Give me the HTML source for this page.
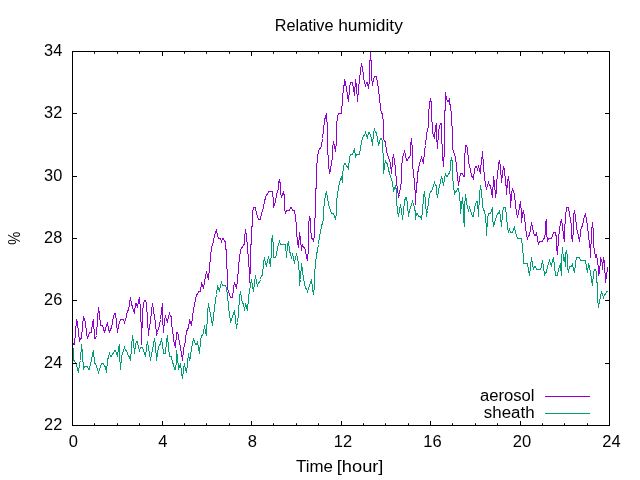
<!DOCTYPE html>
<html><head><meta charset="utf-8"><title>Relative humidity</title>
<style>
html,body{margin:0;padding:0;background:#fff;}
body{width:640px;height:480px;overflow:hidden;}
svg{display:block;}
text{font-family:"Liberation Sans","DejaVu Sans",sans-serif;font-size:15.6px;fill:#000;}
</style></head><body>
<svg width="640" height="480" viewBox="0 0 640 480">
<rect x="0" y="0" width="640" height="480" fill="#fff"/>
<text x="68.80" y="447.30" textLength="9.21" lengthAdjust="spacingAndGlyphs">0</text>
<text x="158.30" y="447.30" textLength="9.21" lengthAdjust="spacingAndGlyphs">4</text>
<text x="247.80" y="447.30" textLength="9.21" lengthAdjust="spacingAndGlyphs">8</text>
<text x="333.80" y="447.30" textLength="18.40" lengthAdjust="spacingAndGlyphs">12</text>
<text x="423.30" y="447.30" textLength="18.40" lengthAdjust="spacingAndGlyphs">16</text>
<text x="512.80" y="447.30" textLength="18.40" lengthAdjust="spacingAndGlyphs">20</text>
<text x="602.30" y="447.30" textLength="18.40" lengthAdjust="spacingAndGlyphs">24</text>
<text x="44.12" y="430.00" textLength="18.18" lengthAdjust="spacingAndGlyphs">22</text>
<text x="44.12" y="367.67" textLength="18.18" lengthAdjust="spacingAndGlyphs">24</text>
<text x="44.12" y="305.33" textLength="18.18" lengthAdjust="spacingAndGlyphs">26</text>
<text x="44.12" y="243.00" textLength="18.18" lengthAdjust="spacingAndGlyphs">28</text>
<text x="44.12" y="180.67" textLength="18.18" lengthAdjust="spacingAndGlyphs">30</text>
<text x="44.12" y="118.33" textLength="18.18" lengthAdjust="spacingAndGlyphs">32</text>
<text x="44.12" y="56.00" textLength="18.18" lengthAdjust="spacingAndGlyphs">34</text>
<text y="31.00"><tspan x="274.77" textLength="58.67" lengthAdjust="spacingAndGlyphs">Relative</tspan> <tspan x="338.15" textLength="64.71" lengthAdjust="spacingAndGlyphs">humidity</tspan></text>
<text y="471.50"><tspan x="296.05" textLength="36.85" lengthAdjust="spacingAndGlyphs">Time</tspan> <tspan x="336.77" textLength="46.70" lengthAdjust="spacingAndGlyphs">[hour]</tspan></text>
<text y="400.90"><tspan x="479.91" textLength="54.60" lengthAdjust="spacingAndGlyphs">aerosol</tspan></text>
<text y="417.80"><tspan x="483.81" textLength="50.74" lengthAdjust="spacingAndGlyphs">sheath</tspan></text>
<text transform="translate(19.5,238.2) rotate(-90) scale(0.94,1)" text-anchor="middle">%</text>
<path d="M545,396.5H590" stroke="#9400d3" stroke-width="1" fill="none"/>
<path d="M545,413.5H590" stroke="#009e73" stroke-width="1" fill="none"/>
<path d="M72.5,341.5L73.5,344.5L74.5,344.5L75.5,332.5L76.5,319.5L77.5,322.5L78.5,332.5L79.5,341.5L80.5,338.5L81.5,338.5L82.5,325.5L83.5,316.5L84.5,319.5L85.5,322.5L86.5,332.5L87.5,338.5L88.5,335.5L89.5,332.5L90.5,332.5L91.5,332.5L92.5,322.5L93.5,319.5L94.5,338.5L95.5,338.5L96.5,335.5L97.5,319.5L98.5,307.5L99.5,313.5L100.5,325.5L101.5,325.5L102.5,325.5L103.5,328.5L104.5,332.5L105.5,328.5L106.5,325.5L107.5,322.5L108.5,328.5L109.5,332.5L110.5,328.5L111.5,328.5L112.5,322.5L113.5,316.5L114.5,313.5L115.5,313.5L116.5,322.5L117.5,332.5L118.5,325.5L119.5,322.5L120.5,319.5L121.5,319.5L122.5,319.5L123.5,319.5L124.5,322.5L125.5,319.5L126.5,316.5L127.5,310.5L128.5,310.5L129.5,303.5L130.5,297.5L131.5,303.5L132.5,307.5L133.5,310.5L134.5,313.5L135.5,303.5L136.5,303.5L137.5,307.5L138.5,300.5L139.5,297.5L140.5,310.5L141.5,332.5L141.5,344.5L142.5,313.5L143.5,303.5L144.5,300.5L145.5,300.5L146.5,303.5L147.5,319.5L148.5,335.5L149.5,325.5L150.5,322.5L151.5,310.5L152.5,303.5L153.5,310.5L154.5,316.5L155.5,322.5L156.5,335.5L157.5,332.5L158.5,328.5L159.5,325.5L160.5,319.5L161.5,310.5L162.5,303.5L162.5,316.5L163.5,332.5L164.5,319.5L165.5,316.5L166.5,319.5L167.5,322.5L168.5,316.5L169.5,313.5L170.5,316.5L171.5,316.5L171.5,325.5L172.5,328.5L173.5,338.5L174.5,344.5L175.5,347.5L176.5,332.5L177.5,332.5L178.5,335.5L178.5,338.5L179.5,341.5L180.5,347.5L181.5,353.5L182.5,360.5L183.5,350.5L184.5,344.5L185.5,341.5L185.5,338.5L186.5,332.5L187.5,328.5L188.5,328.5L189.5,319.5L190.5,322.5L191.5,325.5L192.5,316.5L193.5,310.5L194.5,303.5L195.5,300.5L196.5,294.5L197.5,294.5L198.5,291.5L199.5,291.5L200.5,291.5L201.5,282.5L202.5,285.5L203.5,288.5L204.5,282.5L205.5,275.5L206.5,272.5L207.5,275.5L208.5,279.5L209.5,266.5L210.5,257.5L211.5,247.5L212.5,244.5L213.5,241.5L214.5,235.5L215.5,232.5L216.5,229.5L217.5,235.5L218.5,238.5L219.5,238.5L220.5,238.5L221.5,241.5L222.5,238.5L223.5,238.5L224.5,241.5L225.5,241.5L226.5,257.5L227.5,279.5L227.5,288.5L228.5,291.5L229.5,294.5L230.5,297.5L231.5,297.5L232.5,297.5L233.5,288.5L234.5,282.5L235.5,285.5L236.5,288.5L237.5,279.5L238.5,269.5L238.5,266.5L239.5,257.5L240.5,250.5L241.5,247.5L242.5,247.5L243.5,244.5L244.5,244.5L244.5,238.5L245.5,229.5L246.5,235.5L247.5,247.5L248.5,260.5L249.5,272.5L249.5,282.5L249.5,279.5L250.5,269.5L250.5,244.5L251.5,244.5L251.5,226.5L252.5,226.5L252.5,213.5L253.5,207.5L254.5,207.5L255.5,207.5L256.5,213.5L257.5,216.5L258.5,219.5L259.5,219.5L260.5,219.5L261.5,213.5L262.5,210.5L263.5,207.5L264.5,201.5L265.5,197.5L266.5,194.5L267.5,194.5L268.5,191.5L269.5,191.5L270.5,191.5L271.5,191.5L272.5,191.5L273.5,201.5L273.5,207.5L274.5,204.5L275.5,201.5L276.5,194.5L277.5,191.5L278.5,188.5L278.5,182.5L279.5,179.5L280.5,185.5L280.5,191.5L281.5,197.5L282.5,194.5L283.5,191.5L284.5,197.5L284.5,207.5L285.5,213.5L286.5,210.5L287.5,210.5L288.5,210.5L289.5,210.5L290.5,207.5L291.5,207.5L292.5,210.5L293.5,210.5L294.5,210.5L295.5,216.5L296.5,226.5L296.5,232.5L297.5,241.5L298.5,247.5L299.5,232.5L300.5,238.5L301.5,250.5L302.5,244.5L303.5,247.5L304.5,247.5L305.5,250.5L306.5,257.5L307.5,260.5L308.5,247.5L308.5,226.5L309.5,216.5L310.5,219.5L310.5,226.5L311.5,238.5L312.5,238.5L313.5,241.5L314.5,235.5L314.5,219.5L315.5,216.5L315.5,188.5L316.5,188.5L316.5,169.5L317.5,157.5L318.5,151.5L319.5,148.5L320.5,148.5L321.5,145.5L322.5,138.5L323.5,129.5L324.5,120.5L325.5,116.5L326.5,113.5L326.5,120.5L327.5,123.5L327.5,145.5L328.5,163.5L329.5,173.5L330.5,169.5L331.5,163.5L332.5,157.5L332.5,148.5L333.5,141.5L334.5,145.5L335.5,151.5L336.5,141.5L336.5,126.5L337.5,116.5L338.5,113.5L339.5,113.5L340.5,113.5L341.5,113.5L341.5,110.5L342.5,101.5L343.5,85.5L344.5,85.5L344.5,79.5L345.5,82.5L346.5,88.5L347.5,95.5L348.5,101.5L349.5,88.5L350.5,82.5L351.5,82.5L352.5,82.5L353.5,88.5L354.5,95.5L355.5,79.5L356.5,85.5L357.5,101.5L358.5,88.5L359.5,79.5L360.5,70.5L361.5,63.5L362.5,67.5L363.5,76.5L364.5,82.5L365.5,85.5L366.5,82.5L367.5,82.5L368.5,88.5L369.5,79.5L369.5,60.5L370.5,60.5L370.5,51.5L370.5,60.5L371.5,60.5L371.5,76.5L372.5,85.5L373.5,79.5L374.5,76.5L375.5,76.5L376.5,76.5L377.5,82.5L378.5,88.5L379.5,98.5L380.5,107.5L381.5,113.5L382.5,113.5L383.5,123.5L383.5,138.5L384.5,141.5L385.5,141.5L386.5,151.5L387.5,154.5L388.5,157.5L389.5,160.5L390.5,163.5L391.5,173.5L392.5,160.5L393.5,154.5L394.5,160.5L395.5,169.5L396.5,182.5L397.5,188.5L398.5,197.5L399.5,194.5L400.5,185.5L401.5,182.5L401.5,169.5L402.5,157.5L403.5,154.5L404.5,151.5L405.5,154.5L406.5,160.5L407.5,160.5L408.5,157.5L409.5,157.5L410.5,154.5L410.5,145.5L411.5,138.5L412.5,151.5L412.5,163.5L413.5,173.5L414.5,182.5L415.5,197.5L415.5,204.5L416.5,182.5L417.5,182.5L417.5,173.5L418.5,169.5L419.5,163.5L420.5,160.5L421.5,157.5L422.5,160.5L423.5,163.5L424.5,151.5L425.5,145.5L426.5,135.5L427.5,129.5L428.5,126.5L428.5,113.5L429.5,104.5L430.5,98.5L431.5,104.5L431.5,120.5L432.5,123.5L432.5,132.5L433.5,135.5L434.5,138.5L435.5,126.5L436.5,123.5L436.5,135.5L437.5,148.5L438.5,132.5L439.5,126.5L440.5,123.5L441.5,123.5L441.5,132.5L442.5,154.5L443.5,166.5L444.5,148.5L444.5,110.5L445.5,110.5L445.5,92.5L446.5,98.5L447.5,101.5L448.5,101.5L449.5,98.5L449.5,104.5L450.5,104.5L451.5,116.5L452.5,135.5L452.5,148.5L453.5,151.5L454.5,154.5L455.5,157.5L456.5,166.5L457.5,176.5L458.5,185.5L459.5,179.5L460.5,173.5L461.5,173.5L462.5,173.5L463.5,176.5L464.5,176.5L464.5,160.5L465.5,145.5L466.5,145.5L467.5,148.5L468.5,160.5L469.5,166.5L470.5,169.5L471.5,176.5L472.5,176.5L473.5,179.5L474.5,169.5L475.5,166.5L476.5,166.5L477.5,169.5L478.5,166.5L479.5,169.5L480.5,173.5L481.5,157.5L482.5,157.5L482.5,151.5L483.5,166.5L484.5,176.5L485.5,185.5L486.5,188.5L487.5,185.5L488.5,182.5L489.5,185.5L490.5,185.5L491.5,191.5L492.5,197.5L493.5,176.5L494.5,182.5L495.5,197.5L496.5,191.5L496.5,182.5L497.5,176.5L498.5,163.5L499.5,160.5L500.5,166.5L501.5,182.5L502.5,173.5L503.5,166.5L504.5,169.5L505.5,182.5L506.5,188.5L506.5,194.5L507.5,182.5L508.5,176.5L509.5,185.5L510.5,201.5L510.5,207.5L511.5,194.5L512.5,188.5L513.5,191.5L514.5,194.5L515.5,204.5L516.5,213.5L517.5,216.5L518.5,213.5L519.5,207.5L520.5,201.5L521.5,213.5L521.5,222.5L522.5,213.5L523.5,210.5L524.5,216.5L525.5,226.5L526.5,235.5L527.5,238.5L528.5,235.5L529.5,235.5L530.5,229.5L531.5,222.5L532.5,226.5L533.5,232.5L534.5,235.5L535.5,235.5L536.5,232.5L537.5,238.5L538.5,244.5L539.5,241.5L540.5,241.5L541.5,241.5L542.5,241.5L543.5,238.5L544.5,238.5L545.5,232.5L545.5,222.5L546.5,219.5L546.5,232.5L547.5,241.5L548.5,238.5L549.5,238.5L550.5,238.5L551.5,238.5L552.5,235.5L553.5,232.5L554.5,232.5L555.5,232.5L556.5,238.5L556.5,247.5L557.5,254.5L558.5,238.5L559.5,229.5L560.5,222.5L561.5,219.5L562.5,226.5L563.5,235.5L564.5,241.5L564.5,232.5L565.5,216.5L566.5,207.5L567.5,207.5L568.5,207.5L569.5,213.5L570.5,219.5L571.5,226.5L571.5,235.5L572.5,241.5L573.5,229.5L573.5,216.5L574.5,210.5L575.5,216.5L576.5,226.5L577.5,232.5L578.5,235.5L579.5,241.5L580.5,232.5L581.5,226.5L582.5,226.5L583.5,219.5L584.5,216.5L585.5,213.5L586.5,219.5L587.5,226.5L588.5,235.5L589.5,244.5L590.5,250.5L590.5,257.5L591.5,232.5L592.5,222.5L593.5,232.5L593.5,244.5L594.5,250.5L595.5,257.5L596.5,254.5L597.5,260.5L598.5,269.5L598.5,275.5L599.5,272.5L600.5,260.5L600.5,257.5L601.5,260.5L602.5,263.5L602.5,269.5L603.5,257.5L604.5,263.5L604.5,266.5L605.5,279.5L605.5,282.5L606.5,275.5L607.5,269.5L607.5,266.5" stroke="#9400d3" stroke-width="1" fill="none" stroke-linejoin="miter" shape-rendering="crispEdges"/>
<path d="M73.5,347.5L73.5,360.5L74.5,360.5L75.5,363.5L76.5,363.5L77.5,369.5L78.5,372.5L79.5,363.5L80.5,360.5L81.5,344.5L82.5,353.5L83.5,369.5L84.5,366.5L85.5,366.5L86.5,366.5L87.5,366.5L88.5,369.5L89.5,369.5L90.5,363.5L91.5,360.5L92.5,353.5L93.5,350.5L94.5,363.5L95.5,363.5L96.5,366.5L97.5,369.5L98.5,372.5L99.5,369.5L100.5,366.5L101.5,363.5L102.5,363.5L103.5,363.5L104.5,366.5L105.5,366.5L106.5,372.5L107.5,360.5L108.5,356.5L109.5,353.5L110.5,356.5L111.5,356.5L112.5,353.5L113.5,353.5L114.5,350.5L115.5,350.5L116.5,353.5L117.5,356.5L118.5,347.5L119.5,344.5L119.5,353.5L120.5,369.5L121.5,356.5L122.5,353.5L123.5,350.5L124.5,347.5L125.5,350.5L126.5,350.5L127.5,353.5L128.5,356.5L129.5,356.5L130.5,360.5L131.5,347.5L132.5,335.5L133.5,341.5L134.5,353.5L135.5,344.5L136.5,341.5L137.5,341.5L138.5,347.5L139.5,350.5L140.5,347.5L141.5,347.5L142.5,347.5L143.5,350.5L144.5,353.5L145.5,356.5L146.5,347.5L147.5,341.5L148.5,347.5L149.5,353.5L150.5,360.5L151.5,353.5L152.5,350.5L153.5,344.5L154.5,338.5L155.5,344.5L156.5,360.5L157.5,353.5L158.5,347.5L159.5,344.5L160.5,344.5L161.5,338.5L162.5,344.5L163.5,353.5L164.5,353.5L165.5,353.5L166.5,341.5L167.5,335.5L168.5,347.5L169.5,356.5L170.5,356.5L171.5,356.5L172.5,363.5L173.5,363.5L174.5,369.5L175.5,369.5L176.5,360.5L176.5,350.5L177.5,356.5L178.5,369.5L179.5,366.5L180.5,363.5L181.5,372.5L182.5,378.5L183.5,369.5L184.5,363.5L185.5,369.5L186.5,372.5L187.5,363.5L188.5,353.5L189.5,360.5L190.5,356.5L191.5,347.5L192.5,344.5L193.5,338.5L194.5,341.5L195.5,344.5L196.5,344.5L197.5,341.5L198.5,347.5L199.5,353.5L200.5,341.5L201.5,335.5L202.5,335.5L203.5,332.5L204.5,325.5L205.5,332.5L206.5,335.5L207.5,313.5L208.5,303.5L209.5,310.5L210.5,313.5L211.5,319.5L212.5,325.5L213.5,316.5L214.5,307.5L215.5,300.5L216.5,294.5L217.5,285.5L218.5,288.5L219.5,291.5L220.5,285.5L221.5,282.5L222.5,285.5L223.5,285.5L224.5,285.5L225.5,285.5L226.5,288.5L227.5,294.5L228.5,307.5L229.5,313.5L230.5,322.5L231.5,319.5L232.5,316.5L233.5,313.5L234.5,310.5L235.5,319.5L236.5,328.5L237.5,322.5L238.5,313.5L239.5,297.5L240.5,291.5L241.5,297.5L242.5,303.5L243.5,303.5L244.5,310.5L245.5,303.5L246.5,307.5L247.5,310.5L248.5,297.5L249.5,291.5L250.5,285.5L251.5,279.5L252.5,285.5L253.5,291.5L254.5,282.5L255.5,275.5L256.5,282.5L257.5,285.5L258.5,282.5L259.5,282.5L260.5,279.5L261.5,275.5L262.5,275.5L263.5,263.5L264.5,257.5L265.5,263.5L266.5,266.5L267.5,260.5L268.5,257.5L269.5,260.5L270.5,266.5L271.5,250.5L271.5,241.5L272.5,235.5L273.5,247.5L273.5,257.5L274.5,257.5L275.5,257.5L276.5,254.5L277.5,247.5L278.5,244.5L279.5,241.5L280.5,244.5L281.5,244.5L282.5,244.5L283.5,244.5L284.5,244.5L285.5,244.5L286.5,257.5L287.5,244.5L288.5,241.5L289.5,250.5L290.5,254.5L291.5,257.5L292.5,254.5L293.5,257.5L294.5,263.5L295.5,257.5L296.5,254.5L297.5,257.5L298.5,263.5L299.5,275.5L299.5,285.5L300.5,279.5L301.5,263.5L302.5,269.5L303.5,279.5L304.5,282.5L305.5,288.5L306.5,288.5L307.5,291.5L308.5,288.5L309.5,285.5L310.5,282.5L311.5,279.5L312.5,288.5L313.5,294.5L314.5,285.5L314.5,275.5L315.5,263.5L316.5,254.5L317.5,250.5L318.5,244.5L319.5,235.5L320.5,232.5L321.5,226.5L322.5,222.5L323.5,219.5L323.5,210.5L324.5,201.5L325.5,194.5L326.5,191.5L327.5,197.5L328.5,204.5L329.5,207.5L330.5,210.5L331.5,213.5L332.5,213.5L333.5,213.5L334.5,216.5L335.5,219.5L336.5,213.5L336.5,201.5L337.5,194.5L338.5,188.5L339.5,182.5L340.5,179.5L341.5,176.5L342.5,182.5L342.5,176.5L343.5,166.5L344.5,163.5L345.5,163.5L346.5,166.5L347.5,166.5L348.5,169.5L349.5,157.5L350.5,154.5L351.5,154.5L352.5,154.5L353.5,151.5L354.5,148.5L355.5,157.5L356.5,154.5L357.5,154.5L358.5,154.5L359.5,154.5L360.5,148.5L361.5,141.5L362.5,138.5L363.5,135.5L364.5,135.5L365.5,132.5L366.5,135.5L367.5,138.5L368.5,132.5L369.5,132.5L370.5,135.5L371.5,138.5L372.5,145.5L373.5,132.5L374.5,129.5L375.5,132.5L376.5,132.5L377.5,138.5L378.5,145.5L379.5,141.5L380.5,138.5L381.5,138.5L382.5,141.5L382.5,148.5L383.5,157.5L383.5,173.5L384.5,166.5L385.5,160.5L386.5,163.5L387.5,163.5L388.5,169.5L389.5,173.5L390.5,176.5L391.5,179.5L392.5,182.5L393.5,191.5L394.5,188.5L395.5,185.5L396.5,191.5L396.5,201.5L397.5,210.5L398.5,216.5L399.5,210.5L400.5,204.5L401.5,210.5L402.5,219.5L403.5,210.5L404.5,201.5L405.5,197.5L406.5,197.5L407.5,204.5L408.5,216.5L409.5,210.5L410.5,207.5L411.5,204.5L412.5,201.5L413.5,204.5L414.5,207.5L415.5,213.5L415.5,219.5L416.5,213.5L417.5,213.5L418.5,216.5L419.5,216.5L420.5,216.5L421.5,219.5L422.5,210.5L423.5,197.5L424.5,191.5L425.5,201.5L426.5,216.5L427.5,210.5L428.5,201.5L429.5,194.5L430.5,191.5L431.5,191.5L432.5,188.5L433.5,185.5L434.5,182.5L435.5,185.5L436.5,185.5L436.5,191.5L437.5,197.5L438.5,191.5L439.5,185.5L440.5,182.5L441.5,176.5L442.5,179.5L443.5,185.5L444.5,179.5L445.5,173.5L446.5,176.5L447.5,176.5L448.5,173.5L449.5,173.5L450.5,169.5L450.5,163.5L451.5,157.5L452.5,163.5L452.5,176.5L453.5,185.5L454.5,194.5L455.5,191.5L456.5,191.5L457.5,188.5L458.5,188.5L459.5,194.5L460.5,207.5L460.5,213.5L461.5,204.5L462.5,197.5L463.5,210.5L463.5,219.5L464.5,226.5L464.5,207.5L465.5,194.5L466.5,201.5L467.5,207.5L468.5,210.5L469.5,207.5L470.5,210.5L471.5,213.5L472.5,216.5L473.5,216.5L474.5,207.5L475.5,204.5L476.5,201.5L477.5,201.5L478.5,216.5L479.5,194.5L480.5,185.5L481.5,191.5L482.5,204.5L483.5,210.5L484.5,210.5L485.5,216.5L486.5,229.5L486.5,235.5L487.5,219.5L488.5,213.5L489.5,213.5L490.5,213.5L491.5,210.5L492.5,207.5L492.5,216.5L493.5,226.5L494.5,222.5L495.5,219.5L496.5,216.5L497.5,213.5L498.5,213.5L499.5,210.5L500.5,216.5L501.5,226.5L502.5,213.5L503.5,207.5L504.5,207.5L505.5,207.5L506.5,216.5L507.5,226.5L508.5,232.5L509.5,229.5L510.5,232.5L511.5,232.5L512.5,232.5L513.5,229.5L514.5,226.5L515.5,232.5L516.5,235.5L517.5,238.5L518.5,238.5L519.5,238.5L520.5,238.5L521.5,238.5L522.5,247.5L523.5,257.5L523.5,263.5L524.5,263.5L525.5,263.5L526.5,263.5L527.5,263.5L528.5,269.5L529.5,275.5L530.5,266.5L531.5,257.5L532.5,263.5L533.5,269.5L534.5,266.5L535.5,266.5L536.5,269.5L537.5,269.5L538.5,269.5L539.5,269.5L540.5,269.5L541.5,266.5L542.5,260.5L543.5,266.5L544.5,275.5L545.5,272.5L546.5,272.5L547.5,266.5L548.5,263.5L549.5,260.5L550.5,263.5L551.5,266.5L552.5,260.5L553.5,257.5L554.5,266.5L555.5,275.5L556.5,275.5L557.5,275.5L558.5,269.5L559.5,266.5L560.5,263.5L560.5,266.5L561.5,275.5L561.5,260.5L562.5,247.5L563.5,260.5L564.5,257.5L565.5,266.5L565.5,254.5L566.5,250.5L567.5,257.5L567.5,266.5L568.5,272.5L569.5,266.5L570.5,266.5L571.5,266.5L572.5,263.5L573.5,269.5L574.5,272.5L575.5,263.5L576.5,257.5L577.5,257.5L578.5,257.5L579.5,257.5L580.5,260.5L581.5,260.5L582.5,260.5L583.5,260.5L584.5,260.5L585.5,260.5L586.5,266.5L587.5,272.5L588.5,263.5L589.5,266.5L590.5,272.5L591.5,279.5L592.5,285.5L593.5,272.5L594.5,269.5L595.5,269.5L596.5,272.5L596.5,282.5L597.5,282.5L597.5,297.5L598.5,307.5L599.5,300.5L600.5,297.5L601.5,291.5L602.5,294.5L603.5,297.5L604.5,294.5L605.5,294.5L606.5,291.5L607.5,291.5" stroke="#009e73" stroke-width="1" fill="none" stroke-linejoin="miter" shape-rendering="crispEdges"/>
<path d="M94.50,425.5v-2.25M94.50,51.5v2.25M117.50,425.5v-2.25M117.50,51.5v2.25M139.50,425.5v-2.25M139.50,51.5v2.25M162.50,425.5v-4.5M162.50,51.5v4.5M184.50,425.5v-2.25M184.50,51.5v2.25M206.50,425.5v-2.25M206.50,51.5v2.25M229.50,425.5v-2.25M229.50,51.5v2.25M251.50,425.5v-4.5M251.50,51.5v4.5M273.50,425.5v-2.25M273.50,51.5v2.25M296.50,425.5v-2.25M296.50,51.5v2.25M318.50,425.5v-2.25M318.50,51.5v2.25M341.50,425.5v-4.5M341.50,51.5v4.5M363.50,425.5v-2.25M363.50,51.5v2.25M385.50,425.5v-2.25M385.50,51.5v2.25M408.50,425.5v-2.25M408.50,51.5v2.25M430.50,425.5v-4.5M430.50,51.5v4.5M452.50,425.5v-2.25M452.50,51.5v2.25M475.50,425.5v-2.25M475.50,51.5v2.25M497.50,425.5v-2.25M497.50,51.5v2.25M520.50,425.5v-4.5M520.50,51.5v4.5M542.50,425.5v-2.25M542.50,51.5v2.25M564.50,425.5v-2.25M564.50,51.5v2.25M587.50,425.5v-2.25M587.50,51.5v2.25M72.5,363.50h4.5M609.5,363.50h-4.5M72.5,300.50h4.5M609.5,300.50h-4.5M72.5,238.50h4.5M609.5,238.50h-4.5M72.5,176.50h4.5M609.5,176.50h-4.5M72.5,113.50h4.5M609.5,113.50h-4.5" stroke="#000" stroke-width="1" fill="none"/>
<rect x="72.5" y="51.5" width="537.00" height="374.00" fill="none" stroke="#000" stroke-width="1"/>
</svg>
</body></html>
